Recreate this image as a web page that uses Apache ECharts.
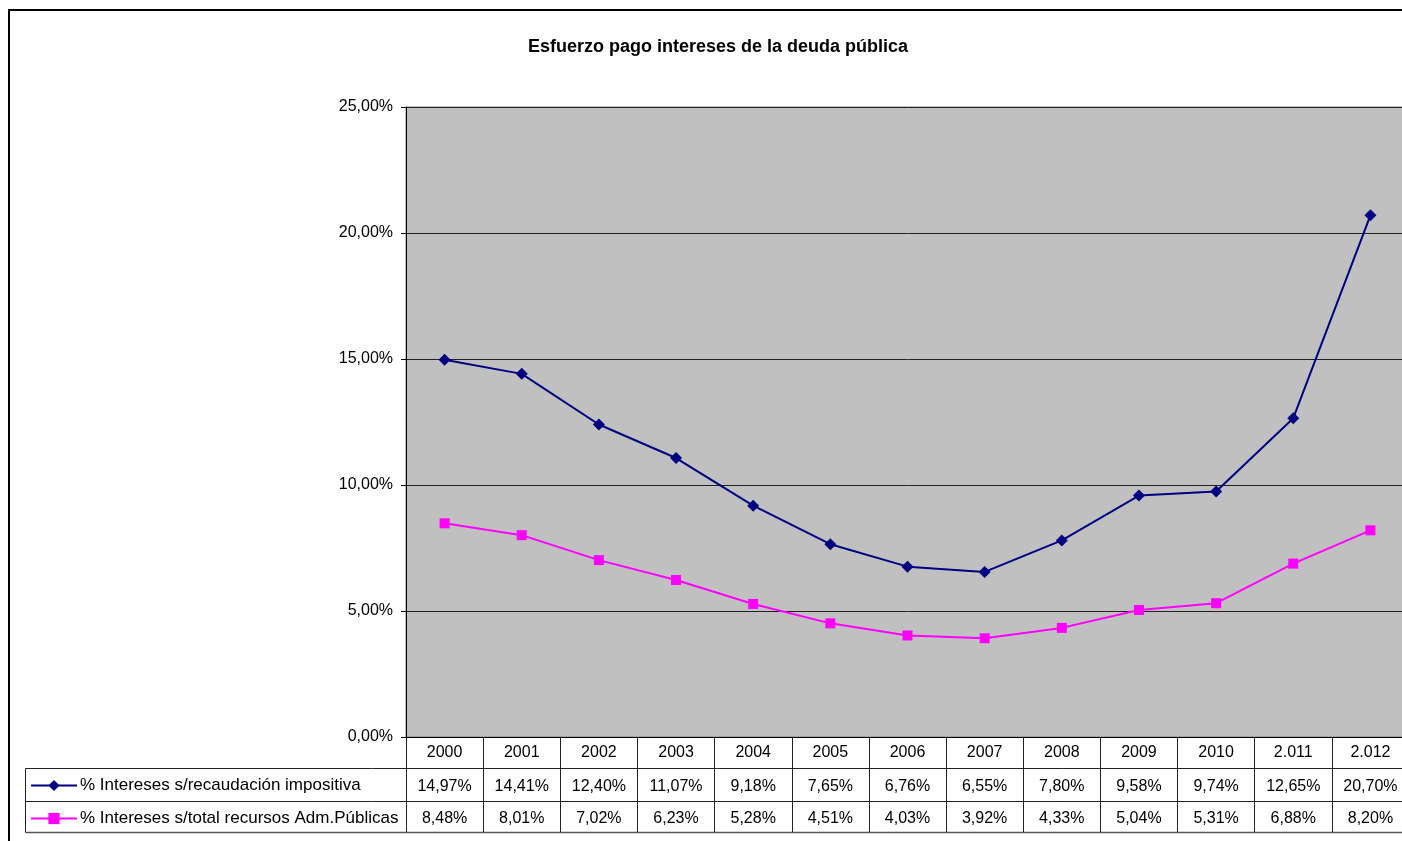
<!DOCTYPE html>
<html>
<head>
<meta charset="utf-8">
<script src="https://cdn.jsdelivr.net/npm/echarts@6/dist/echarts.min.js"></script>
<style>
  html, body { margin: 0; padding: 0; background: #fff; overflow: hidden; }
  #chart { width: 1409px; height: 841px; }
</style>
</head>
<body>
<div id="chart"></div>
<script>
const years = ['2000', '2001', '2002', '2003', '2004', '2005', '2006', '2007', '2008', '2009', '2010', '2.011', '2.012'];
const recaudacion = [14.97, 14.41, 12.40, 11.07, 9.18, 7.65, 6.76, 6.55, 7.80, 9.58, 9.74, 12.65, 20.70];
const recursos = [8.48, 8.01, 7.02, 6.23, 5.28, 4.51, 4.03, 3.92, 4.33, 5.04, 5.31, 6.88, 8.20];
const serieNames = ['% Intereses s/recaudación impositiva', '% Intereses s/total recursos Adm.Públicas'];

const font = '"Liberation Sans", Arial, sans-serif';
const pct = (v) => v.toFixed(2).replace('.', ',') + '%';

// el gráfico original sigue a la derecha de la ventana: el div es algo más ancho
const chart = echarts.init(document.getElementById('chart'));

// filas de la tabla de datos como ejes extra bajo el grid
function tableAxis(values, offset) {
    return {
        type: 'category',
        gridIndex: 0,
        position: 'bottom',
        offset: offset,
        data: values.map(pct),
        axisLine: { show: false },
        axisTick: { show: false },
        axisLabel: { interval: 0, margin: 8, fontSize: 16, color: '#000', fontFamily: font },
    };
}

const options = {
    animation: false,
    textStyle: { fontFamily: font },
    title: {
        text: 'Esfuerzo pago intereses de la deuda pública',
        left: 523,
        top: 33,
        textStyle: { fontSize: 18, fontWeight: 'bold', color: '#000', fontFamily: font },
    },
    legend: {
        orient: 'vertical',
        left: 30,
        top: 777,
        padding: 0,
        itemGap: 16,
        itemWidth: 46,
        itemHeight: 14,
        data: serieNames,
        textStyle: { fontSize: 17, color: '#000', fontFamily: font, padding: [0, 0, 0, -2] },
    },
    grid: {
        show: true,
        left: 406,
        top: 107,
        right: 0,
        height: 630,
        backgroundColor: '#c0c0c0',
        borderColor: '#808080',
        borderWidth: 1,
    },
    xAxis: [
        {
            type: 'category',
            data: years,
            boundaryGap: true,
            axisLine: { show: true, lineStyle: { color: '#000', width: 1 } },
            axisTick: { show: true, length: 95, interval: 0, lineStyle: { color: '#222' } },
            axisLabel: { interval: 0, margin: 8, fontSize: 16, color: '#000', fontFamily: font },
        },
        tableAxis(recaudacion, 34),
        tableAxis(recursos, 66),
    ],
    yAxis: {
        type: 'value',
        min: 0,
        max: 25,
        interval: 5,
        axisLine: { show: true, lineStyle: { color: '#000' } },
        axisTick: { show: true, length: 5, lineStyle: { color: '#000' } },
        axisLabel: { fontSize: 16, color: '#000', margin: 13, formatter: pct, fontFamily: font },
        splitLine: { show: true, lineStyle: { color: '#222', width: 1 } },
    },
    graphic: [
        { type: 'rect', shape: { x: 9, y: 10, width: 1500, height: 900 }, style: { fill: null, stroke: '#000', lineWidth: 2 }, silent: true },
        { type: 'line', shape: { x1: 25.5, y1: 768.5, x2: 1420, y2: 768.5 }, style: { stroke: '#222', lineWidth: 1 } },
        { type: 'line', shape: { x1: 25.5, y1: 801.5, x2: 1420, y2: 801.5 }, style: { stroke: '#222', lineWidth: 1 } },
        { type: 'line', shape: { x1: 25.5, y1: 832.5, x2: 1420, y2: 832.5 }, style: { stroke: '#555', lineWidth: 1.5 } },
        { type: 'line', shape: { x1: 25.5, y1: 768.5, x2: 25.5, y2: 832.5 }, style: { stroke: '#222', lineWidth: 1 } },
    ],
    series: [
        {
            name: serieNames[0],
            type: 'line',
            data: recaudacion,
            symbol: 'diamond',
            symbolSize: 12,
            itemStyle: { color: '#000080' },
            lineStyle: { color: '#000080', width: 2 },
        },
        {
            name: serieNames[1],
            type: 'line',
            data: recursos,
            symbol: 'rect',
            symbolSize: 10,
            itemStyle: { color: '#ff00ff' },
            lineStyle: { color: '#ff00ff', width: 2 },
        },
    ],
};

chart.setOption(options);
</script>
</body>
</html>
